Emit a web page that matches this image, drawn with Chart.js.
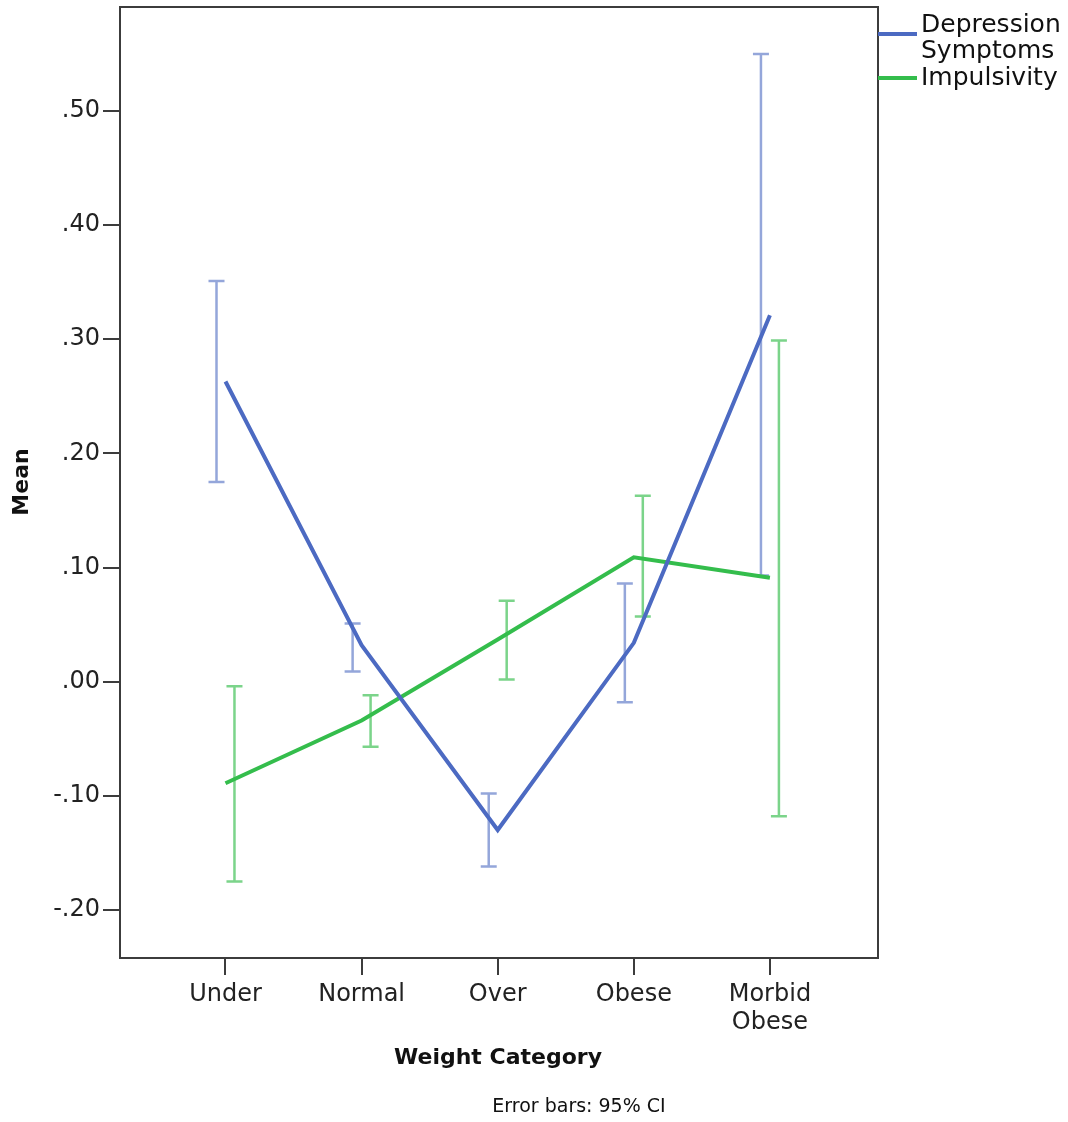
<!DOCTYPE html>
<html>
<head>
<meta charset="utf-8">
<script src="https://cdn.jsdelivr.net/npm/chart.js@4"></script>
<style>
  body { margin: 0; background: #fff; }
  #wrap { position: relative; width: 1068px; height: 1122px; }
</style>
</head>
<body>
<div id="wrap"><canvas id="myChart"></canvas></div>
<script>
// categories and values
var categories = ['Under', 'Normal', 'Over', 'Obese', ['Morbid', 'Obese']];
var depressionMean  = [0.263, 0.032, -0.130, 0.034, 0.321];
var depressionLower = [0.175, 0.009, -0.162, -0.018, 0.093];
var depressionUpper = [0.351, 0.051, -0.098, 0.086, 0.550];
var impulsivityMean  = [-0.089, -0.034, 0.037, 0.109, 0.091];
var impulsivityLower = [-0.175, -0.057, 0.002, 0.057, -0.118];
var impulsivityUpper = [-0.004, -0.012, 0.071, 0.163, 0.299];
var yTicks = [-0.2, -0.1, 0, 0.1, 0.2, 0.3, 0.4, 0.5];

var blue = 'rgb(76,106,194)';
var green = 'rgb(52,189,76)';
var axisColor = '#3c3c3c';
var font = 'DejaVu Sans';

function points(vals) {
    return vals.map(function (v, i) { return { x: i, y: v }; });
}

// error bars, drawn through the chart's scales
var errorBars = {
    id: 'errorBars',
    beforeDatasetsDraw: function (chart) {
        var ctx = chart.ctx, xs = chart.scales.x, ys = chart.scales.y;
        var sets = [
            { lo: depressionLower, hi: depressionUpper, color: 'rgba(76,106,194,0.6)', shift: -0.066 },
            { lo: impulsivityLower, hi: impulsivityUpper, color: 'rgba(52,189,76,0.65)', shift: 0.066 }
        ];
        ctx.save();
        sets.forEach(function (s) {
            ctx.strokeStyle = s.color;
            ctx.lineWidth = 2.5;
            s.lo.forEach(function (lo, i) {
                var x = xs.getPixelForValue(i + s.shift);
                var y1 = ys.getPixelForValue(lo), y2 = ys.getPixelForValue(s.hi[i]);
                ctx.beginPath();
                ctx.moveTo(x, y1); ctx.lineTo(x, y2);
                ctx.moveTo(x - 8, y1); ctx.lineTo(x + 8, y1);
                ctx.moveTo(x - 8, y2); ctx.lineTo(x + 8, y2);
                ctx.stroke();
            });
        });
        ctx.restore();
    }
};

// frame, titles, legend and footnote
var decorations = {
    id: 'decorations',
    afterDraw: function (chart) {
        var ctx = chart.ctx, a = chart.chartArea;
        ctx.save();
        ctx.strokeStyle = axisColor;
        ctx.lineWidth = 2;
        ctx.strokeRect(a.left, a.top, a.right - a.left, a.bottom - a.top);

        ctx.fillStyle = '#111';
        ctx.textAlign = 'center';
        ctx.textBaseline = 'middle';
        ctx.font = 'bold 22px "' + font + '"';
        ctx.fillText('Weight Category', 498, 1058);
        ctx.save();
        ctx.translate(22, 482);
        ctx.rotate(-Math.PI / 2);
        ctx.fillText('Mean', 0, 0);
        ctx.restore();

        ctx.font = '19px "' + font + '"';
        ctx.fillText('Error bars: 95% CI', 579, 1107);

        // legend
        ctx.lineWidth = 4;
        ctx.strokeStyle = blue;
        ctx.beginPath(); ctx.moveTo(878, 34); ctx.lineTo(917, 34); ctx.stroke();
        ctx.strokeStyle = green;
        ctx.beginPath(); ctx.moveTo(878, 78); ctx.lineTo(917, 78); ctx.stroke();
        ctx.textAlign = 'left';
        ctx.font = '25px "' + font + '"';
        ctx.fillStyle = '#111';
        ctx.fillText('Depression', 921, 25);
        ctx.fillText('Symptoms', 921, 51);
        ctx.fillText('Impulsivity', 921, 78);
        ctx.restore();
    }
};

var ctx = document.getElementById('myChart').getContext('2d');

var myChart = new Chart(ctx, {
    type: 'line',
    data: {
        datasets: [{
            label: 'Depression Symptoms',
            data: points(depressionMean),
            borderColor: blue,
            borderWidth: 4,
            pointRadius: 0,
            tension: 0
        }, {
            label: 'Impulsivity',
            data: points(impulsivityMean),
            borderColor: green,
            borderWidth: 4,
            pointRadius: 0,
            tension: 0
        }]
    },
    options: {
        responsive: true,
        maintainAspectRatio: false,
        animation: false,
        layout: { padding: { top: 7, right: 190, left: 0, bottom: 0 } },
        plugins: { legend: { display: false }, tooltip: { enabled: false } },
        scales: {
            x: {
                type: 'linear',
                min: -0.775,
                max: 4.794,
                afterFit: function (s) {
                    s.height = 164;
                    s.paddingLeft = 0; s.paddingRight = 0;
                },
                afterBuildTicks: function (s) {
                    s.ticks = categories.map(function (c, i) { return { value: i }; });
                },
                ticks: {
                    color: '#222',
                    font: { family: font, size: 24 },
                    padding: 5,
                    maxRotation: 0,
                    autoSkip: false,
                    callback: function (v) { return categories[v]; }
                },
                grid: { drawOnChartArea: false, tickLength: 17, lineWidth: 2, color: axisColor },
                border: { color: axisColor, width: 2 }
            },
            y: {
                min: -0.2421,
                max: 0.5911,
                afterFit: function (s) {
                    s.width = 120;
                    s.paddingTop = 0; s.paddingBottom = 0;
                },
                afterBuildTicks: function (s) {
                    s.ticks = yTicks.map(function (v) { return { value: v }; });
                },
                ticks: {
                    color: '#222',
                    font: { family: font, size: 24 },
                    padding: 3,
                    callback: function (v) { return v.toFixed(2).replace('0.', '.'); }
                },
                grid: { drawOnChartArea: false, tickLength: 17, lineWidth: 2, color: axisColor },
                border: { color: axisColor, width: 2 }
            }
        }
    },
    plugins: [errorBars, decorations]
});
</script>
</body>
</html>
